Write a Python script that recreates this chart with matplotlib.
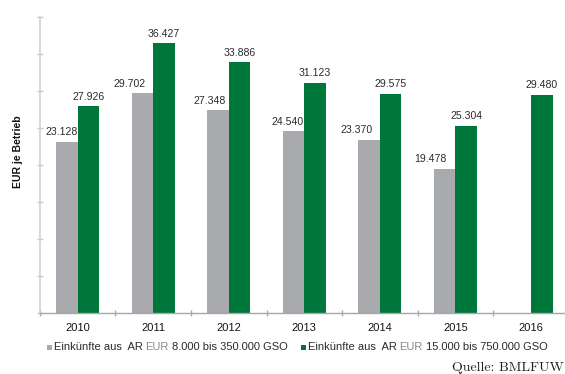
import matplotlib
matplotlib.use("Agg")
import matplotlib.pyplot as plt
from matplotlib.patches import Rectangle
import numpy as np

# Farm income per holding, two size classes
years = ["2010", "2011", "2012", "2013", "2014", "2015", "2016"]
income_small = [23128, 29702, 27348, 24540, 23370, 19478, None]
income_large = [27926, 36427, 33886, 31123, 29575, 25304, 29480]
legend_small = ("Einkünfte aus  AR", "EUR", "8.000 bis 350.000 GSO")
legend_large = ("Einkünfte aus  AR", "EUR", "15.000 bis 750.000 GSO")
y_title = "EUR je Betrieb"
source = "Quelle: BMLFUW"

GRAY = "#a9aaae"
GREEN = "#00773a"
TEXT = "#2b2b2b"

W, H = 565, 374
plt.rcParams["font.family"] = ["Liberation Sans", "DejaVu Sans"]
fig = plt.figure(figsize=(W / 100, H / 100), dpi=100)
ax = fig.add_axes([39.9 / W, 61 / H, 528.9 / W, 296.2 / H])


def de_num(v):
    return f"{v:,}".replace(",", ".")


x = np.arange(len(years))
bw = 0.285
# horizontal nudges (pixels) of the grey value labels
small_label_dx = [-5, -12.6, -8, -6.4, -13, -14, 0]

for i, v in enumerate(income_small):
    if v is None:
        continue
    ax.bar(x[i] - bw / 2, v, width=bw, color=GRAY, linewidth=0)
    ax.annotate(de_num(v), (x[i] - bw / 2, v), xytext=(small_label_dx[i], 9.5),
                textcoords="offset pixels", ha="center", va="center",
                fontsize=7.6, color=TEXT)

for i, v in enumerate(income_large):
    ax.bar(x[i] + bw / 2, v, width=bw, color=GREEN, linewidth=0)
    ax.annotate(de_num(v), (x[i] + bw / 2, v), xytext=(0, 9.5),
                textcoords="offset pixels", ha="center", va="center",
                fontsize=7.6, color=TEXT)

ax.set_xlim(-0.5, len(years) - 0.5)
ax.set_ylim(0, 40000)

for s in ("top", "right"):
    ax.spines[s].set_visible(False)
ax.spines["left"].set_color("#d2d2d2")
ax.spines["left"].set_linewidth(1.2)
ax.spines["bottom"].set_color("#a8a8a8")
ax.spines["bottom"].set_linewidth(1.0)

ax.set_yticks(np.arange(0, 40001, 5000))
ax.set_yticklabels([])
ax.tick_params(axis="y", direction="inout", length=4.5, width=1, color="#c8c8c8")

ax.set_xticks(x)
ax.set_xticklabels(years, fontsize=8, color="#141414")
ax.tick_params(axis="x", which="major", length=0, pad=7)
ax.set_xticks(np.arange(-0.5, len(years) - 0.5, 1.0), minor=True)
ax.tick_params(axis="x", which="minor", direction="inout", length=4.8,
               width=1, color="#a8a8a8")

fig.text(18.5 / W, 1 - 152 / H, y_title, rotation=90, ha="center", va="center",
         fontsize=7.5, fontweight="bold", color="#111111")

renderer = fig.canvas.get_renderer()


def text_width(s, size):
    t = fig.text(0, 0, s, fontsize=size)
    w = t.get_window_extent(renderer=renderer).width
    t.remove()
    return w


LEG_SIZE = 8
space = text_width("x x", LEG_SIZE) - text_width("xx", LEG_SIZE)


def legend_entry(x_px, y_px, color, parts):
    fig.patches.append(Rectangle(((x_px) / W, 1 - (y_px + 2.5) / H), 5 / W, 5 / H,
                                 transform=fig.transFigure, facecolor=color,
                                 edgecolor="none"))
    cur = x_px + 6.5
    colors = [TEXT, "#8a8a8a", TEXT]
    for part, c in zip(parts, colors):
        t = fig.text(cur / W, 1 - y_px / H, part, fontsize=LEG_SIZE, color=c,
                     ha="left", va="center")
        cur += t.get_window_extent(renderer=renderer).width + space


legend_entry(47, 347.5, GRAY, legend_small)
legend_entry(301, 347.5, GREEN, legend_large)

fig.text(563.5 / W, 1 - 368 / H, source, family="cmr10", fontsize=10,
         color="#222222", ha="right", va="center")

fig.savefig("out.png", dpi=100)
